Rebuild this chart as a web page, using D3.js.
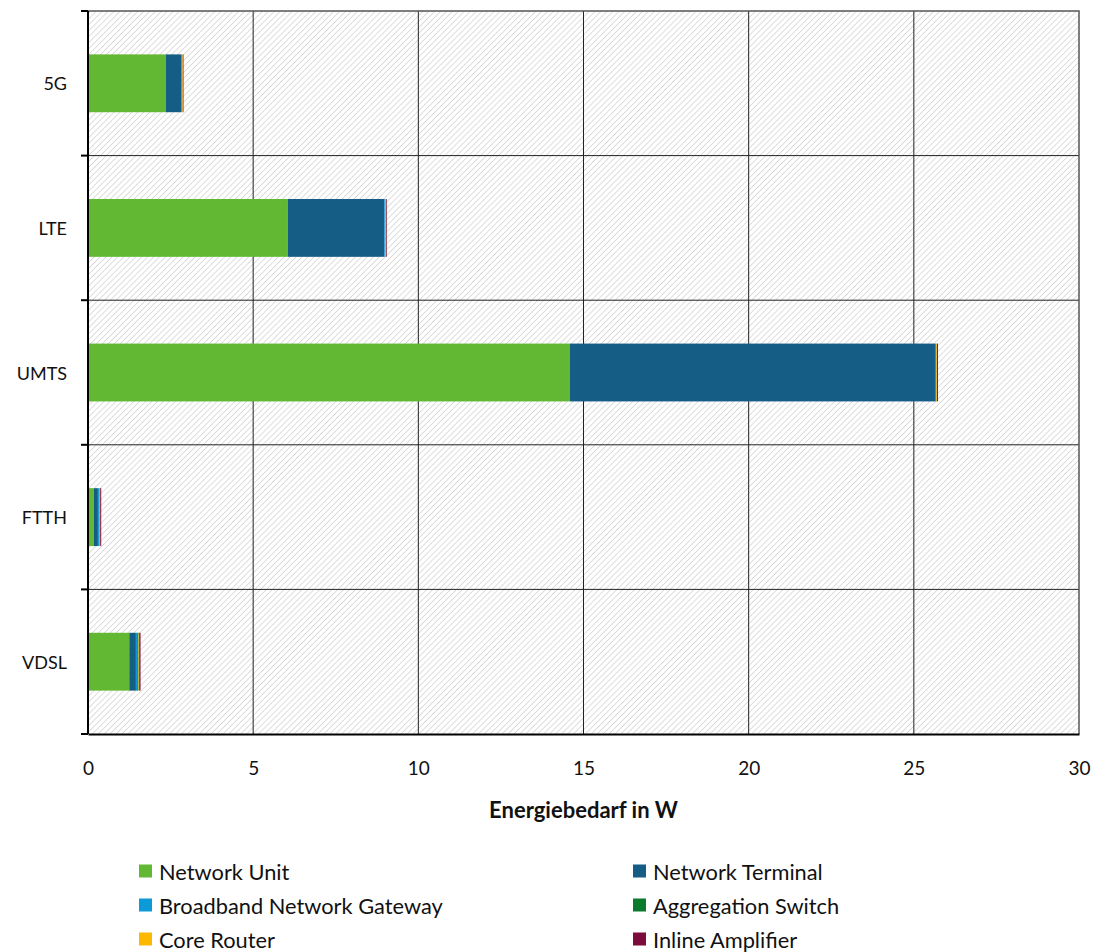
<!DOCTYPE html>
<html>
<head>
<meta charset="utf-8">
<script src="https://cdn.jsdelivr.net/npm/d3@7"></script>
<style>
  html, body { margin: 0; padding: 0; background: #fff; }
  svg { display: block; font-family: Lato, "Open Sans", sans-serif; }
</style>
</head>
<body>
<svg id="chart" width="1096" height="952"></svg>
<script>
// Energy demand per access technology, stacked by network component (W)
const categories = ["5G", "LTE", "UMTS", "FTTH", "VDSL"];
const seriesNames = ["Network Unit", "Network Terminal", "Broadband Network Gateway",
                     "Aggregation Switch", "Core Router", "Inline Amplifier"];
const networkUnit       = [2.36, 6.05, 14.59, 0.18, 1.25];
const networkTerminal   = [0.46, 2.92, 11.05, 0.12, 0.20];
const broadbandGateway  = [0.02, 0.03, 0.03, 0.03, 0.04];
const aggregationSwitch = [0.01, 0.01, 0.01, 0.02, 0.04];
const coreRouter        = [0.02, 0.02, 0.02, 0.02, 0.02];
const inlineAmplifier   = [0.02, 0.02, 0.03, 0.03, 0.04];
const xTicks = [0, 5, 10, 15, 20, 25, 30];
const colors = ["#62b832", "#155d85", "#0c9bd8", "#0a7a2e", "#fcb900", "#7b0c3c"];

const seriesValues = [networkUnit, networkTerminal, broadbandGateway,
                      aggregationSwitch, coreRouter, inlineAmplifier];
const rows = categories.map((c, i) => {
  const r = { cat: c };
  seriesNames.forEach((s, k) => r[s] = seriesValues[k][i]);
  return r;
});

const svg = d3.select("#chart");
const m = { left: 88, right: 1079, top: 11, bottom: 734 };

const x = d3.scaleLinear().domain([0, 30]).range([m.left, m.right]);
const y = d3.scaleBand().domain(categories).range([m.top, m.bottom]).paddingInner(0.6).paddingOuter(0.3);
const yOuter = d3.scaleBand().domain(categories).range([m.top, m.bottom]);

// diagonal hatch for the plot background
const defs = svg.append("defs");
const pat = defs.append("pattern")
  .attr("id", "hatch").attr("patternUnits", "userSpaceOnUse")
  .attr("width", 4.2).attr("height", 4.2)
  .attr("patternTransform", "rotate(45)");
pat.append("rect").attr("width", 4.2).attr("height", 4.2).attr("fill", "#fff");
pat.append("line").attr("x1", 0).attr("y1", 0).attr("x2", 0).attr("y2", 4.2)
  .attr("stroke", "#cfcfcf").attr("stroke-width", 1.4);

svg.append("rect")
  .attr("x", m.left).attr("y", m.top)
  .attr("width", m.right - m.left).attr("height", m.bottom - m.top)
  .attr("fill", "url(#hatch)");

// vertical grid lines
svg.append("g").selectAll("line").data(xTicks.slice(1, -1)).join("line")
  .attr("x1", d => x(d)).attr("x2", d => x(d))
  .attr("y1", m.top).attr("y2", m.bottom)
  .attr("stroke", "#222").attr("stroke-width", 1);

// horizontal category separators
svg.append("g").selectAll("line").data(categories.slice(1)).join("line")
  .attr("x1", m.left).attr("x2", m.right)
  .attr("y1", d => yOuter(d)).attr("y2", d => yOuter(d))
  .attr("stroke", "#222").attr("stroke-width", 1);

// frame: top and right in gray
svg.append("path")
  .attr("d", `M${m.left},${m.top}H${m.right}V${m.bottom}`)
  .attr("fill", "none").attr("stroke", "#555").attr("stroke-width", 1.5);

// stacked bars
const stack = d3.stack().keys(seriesNames)(rows);
svg.append("g").selectAll("g").data(stack).join("g")
  .attr("fill", (d, i) => colors[i])
  .selectAll("rect").data(d => d).join("rect")
  .attr("x", d => x(d[0]))
  .attr("width", d => x(d[1]) - x(d[0]))
  .attr("y", d => y(d.data.cat))
  .attr("height", y.bandwidth());

// y axis with ticks at category boundaries
const yAxisG = svg.append("g");
yAxisG.append("line")
  .attr("x1", m.left).attr("x2", m.left).attr("y1", m.top).attr("y2", m.bottom)
  .attr("stroke", "#000").attr("stroke-width", 2);
const boundaries = categories.map(c => yOuter(c)).concat([m.bottom]);
yAxisG.selectAll("line.tk").data(boundaries).join("line").attr("class", "tk")
  .attr("x1", m.left - 7).attr("x2", m.left)
  .attr("y1", d => d).attr("y2", d => d)
  .attr("stroke", "#000").attr("stroke-width", 2);
yAxisG.selectAll("text").data(categories).join("text")
  .attr("x", 67).attr("y", d => yOuter(d) + yOuter.bandwidth() / 2)
  .attr("text-anchor", "end").attr("dominant-baseline", "central")
  .attr("font-size", 18).attr("fill", "#111").text(d => d);

// x axis
const xAxis = d3.axisBottom(x).tickValues(xTicks).tickSize(0).tickPadding(28).tickFormat(d3.format("d"));
const xAxisG = svg.append("g").attr("transform", `translate(0,${m.bottom})`).call(xAxis);
xAxisG.select(".domain").attr("stroke", "#000").attr("stroke-width", 2);
xAxisG.selectAll("text").attr("font-size", 19).attr("fill", "#111")
  .attr("font-family", "Lato, 'Open Sans', sans-serif");

svg.append("text")
  .attr("x", (m.left + m.right) / 2).attr("y", 818)
  .attr("text-anchor", "middle").attr("font-size", 22).attr("font-weight", "bold")
  .attr("fill", "#111").text("Energiebedarf in W");

// legend, two columns
const legendPos = [[139, 871], [633, 871], [139, 905], [633, 905], [139, 939], [633, 939]];
const leg = svg.append("g").selectAll("g").data(seriesNames).join("g")
  .attr("transform", (d, i) => `translate(${legendPos[i][0]},${legendPos[i][1]})`);
leg.append("rect").attr("x", 0).attr("y", -6.5).attr("width", 13).attr("height", 13)
  .attr("fill", (d, i) => colors[i]);
leg.append("text").attr("x", 20).attr("y", 0).attr("dominant-baseline", "central")
  .attr("font-size", 21.8).attr("fill", "#111").text(d => d);
</script>
</body>
</html>
